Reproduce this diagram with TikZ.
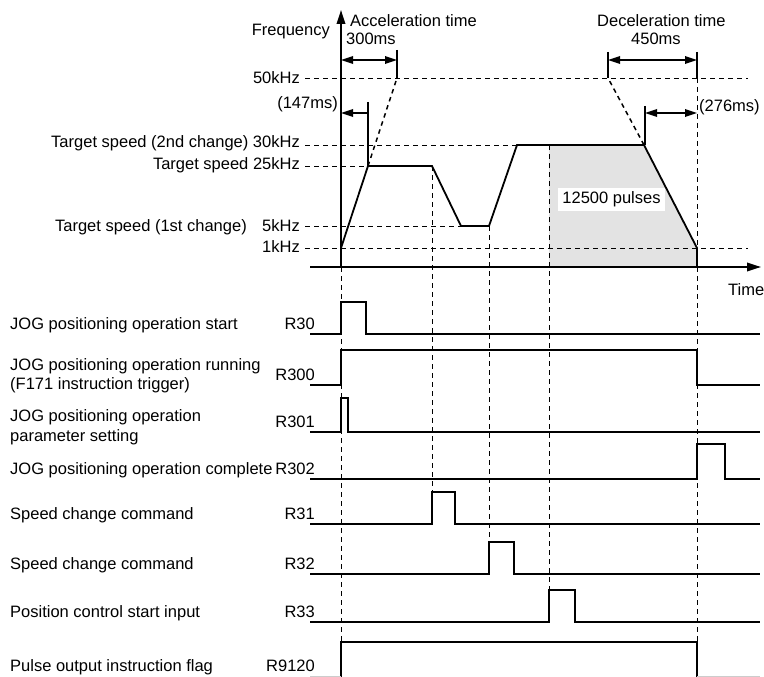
\documentclass[tikz,border=0pt]{standalone}
\usepackage{fontspec}
\setmainfont{Liberation Sans}
\usetikzlibrary{arrows.meta}
\begin{document}
\begin{tikzpicture}[x=1pt,y=-1pt,
  txt/.style={inner sep=0pt,font=\fontsize{16.5}{19}\selectfont},
  lw/.style={txt,anchor=base west},
  le/.style={txt,anchor=base east},
  sig/.style={line width=1.8pt,line join=miter},
  dsh/.style={line width=0.9pt,dash pattern=on 5pt off 4pt},
  dshb/.style={line width=1.5pt,dash pattern=on 4.5pt off 4pt},
  tick/.style={line width=1.4pt},
  tip/.tip={Triangle[length=12pt,width=7.5pt]},
  dimboth/.style={line width=1.7pt,tip-tip},
  dimleft/.style={line width=1.7pt,tip-},
  axis/.style={line width=1.8pt,-{Triangle[length=14pt,width=8.5pt]}}
]
\useasboundingbox (0,0) rectangle (764,677);

% key points of the frequency profile
\coordinate (p0) at (341,248);
\coordinate (p1) at (368,166);
\coordinate (p2) at (432,166);
\coordinate (p3) at (461,226);
\coordinate (p4) at (489,226);
\coordinate (p5) at (517,145);
\coordinate (p6) at (644,145);
\coordinate (p7) at (697,248);
\coordinate (p8) at (697,267);
\coordinate (s0) at (549,145);
\coordinate (s1) at (549,267);

% shaded area
\fill[gray!22] (s0) -- (p6) -- (p7) -- (p8) -- (s1) -- cycle;

% horizontal dashed levels
\draw[dsh] (305,78) -- (748,78);
\draw[dsh] (305,145) -- (p5);
\draw[dsh] (305,166) -- (p1);
\draw[dsh] (305,226) -- (p3);
\draw[dsh] (305,248) -- (748,248);

% dashed extrapolations to 50 kHz
\coordinate (a50) at (397,78);
\coordinate (d50) at (608,78);
\draw[dshb] (p1) -- (a50);
\draw[dshb] (p6) -- (d50);

% vertical dashed guides
\draw[dsh] (341,267) -- (341,642);
\draw[dsh] (p2) -- (432,492);
\draw[dsh] (p4) -- (489,542);
\draw[dsh] (s0) -- (549,590);
\draw[dsh] (697,78) -- (p7);
\draw[dsh] (p8) -- (697,642);

% profile
\draw[sig] (p0) -- (p1) -- (p2) -- (p3) -- (p4) -- (p5) -- (p6) -- (p7) -- (p8);

% axes
\draw[axis] (341,267) -- (341,10);
\draw[axis] (310,267) -- (761,267);

% dimension ticks and arrows
\draw[tick] (397,50) -- (a50);
\draw[tick] (368,102) -- (p1);
\draw[tick] (608,52) -- (d50);
\draw[tick] (697,52) -- (697,78);
\draw[tick] (645,106) -- (645,145);
\coordinate (acc0) at (341,60);
\coordinate (acc1) at (397,60);
\coordinate (q0) at (341,113);
\coordinate (q1) at (368,113);
\coordinate (dec0) at (608,60);
\coordinate (dec1) at (697,60);
\coordinate (r0) at (645,113);
\coordinate (r1) at (697,113);
\draw[dimboth] (acc0) -- (acc1);
\draw[dimleft] (q0) -- (q1);
\draw[dimboth] (dec0) -- (dec1);
\draw[dimboth] (r0) -- (r1);

% chart texts
\node[le] (freq) at (330,36) {Frequency};
\node[lw] (acct) at (350,27) {Acceleration time};
\node[lw] (accv) at (346,45) {300ms};
\node[lw] (dect) at (597,27) {Deceleration time};
\node[lw] (decv) at (631,45) {450ms};
\node[le] (f50) at (300,84) {50kHz};
\node[le] (t147) at (338,109) {(147ms)};
\node[lw] (t276) at (699,112) {(276ms)};
\node[le] (f30) at (300,147.5) {Target speed (2nd change) 30kHz};
\node[le] (f25) at (300,169) {Target speed 25kHz};
\node[le] (f5l) at (247,231.5) {Target speed (1st change)};
\node[le] (f5) at (300,231.5) {5kHz};
\node[le] (f1) at (300,252.5) {1kHz};
\node[lw] (time) at (728,295) {Time};
\node[txt,fill=white,inner xsep=4.5pt,inner ysep=4pt,text height=12pt,text depth=3.5pt] (pulses) at (611.5,199.5) {12500 pulses};

% signals
\draw[sig] (310,334) -- (341,334) -- (341,302) -- (366,302) -- (366,334) -- (760,334);
\draw[sig] (310,385) -- (341,385) -- (341,350) -- (697,350) -- (697,385) -- (760,385);
\draw[sig] (310,432) -- (341,432) -- (341,398) -- (348,398) -- (348,432) -- (760,432);
\draw[sig] (310,479) -- (697,479) -- (697,444) -- (725,444) -- (725,479) -- (760,479);
\draw[sig] (310,524) -- (432,524) -- (432,492) -- (455,492) -- (455,524) -- (760,524);
\draw[sig] (310,574) -- (489,574) -- (489,542) -- (514,542) -- (514,574) -- (760,574);
\draw[sig] (310,622) -- (549,622) -- (549,590) -- (575,590) -- (575,622) -- (760,622);
\draw[sig] (341,677) -- (341,642) -- (697,642) -- (697,677);
\draw[line width=1pt,gray!40] (310,676.5) -- (341,676.5);
\draw[line width=1pt,gray!40] (697,676.5) -- (760,676.5);

% signal labels
\node[le] (r30) at (315,329) {R30};
\node[le] (r300) at (315,380) {R300};
\node[le] (r301) at (315,427) {R301};
\node[le] (r302) at (315,474) {R302};
\node[le] (r31) at (315,519) {R31};
\node[le] (r32) at (315,569) {R32};
\node[le] (r33) at (315,617) {R33};
\node[le] (r9120) at (315,671) {R9120};

\node[lw] (l30) at (10,329) {JOG positioning operation start};
\node[lw] (l300a) at (10,370) {JOG positioning operation running};
\node[lw] (l300b) at (10,389) {(F171 instruction trigger)};
\node[lw] (l301a) at (10,421) {JOG positioning operation};
\node[lw] (l301b) at (10,441) {parameter setting};
\node[lw] (l302) at (10,474) {JOG positioning operation complete};
\node[lw] (l31) at (10,519) {Speed change command};
\node[lw] (l32) at (10,569) {Speed change command};
\node[lw] (l33) at (10,617) {Position control start input};
\node[lw] (l9120) at (10,671) {Pulse output instruction flag};
\end{tikzpicture}
\end{document}
